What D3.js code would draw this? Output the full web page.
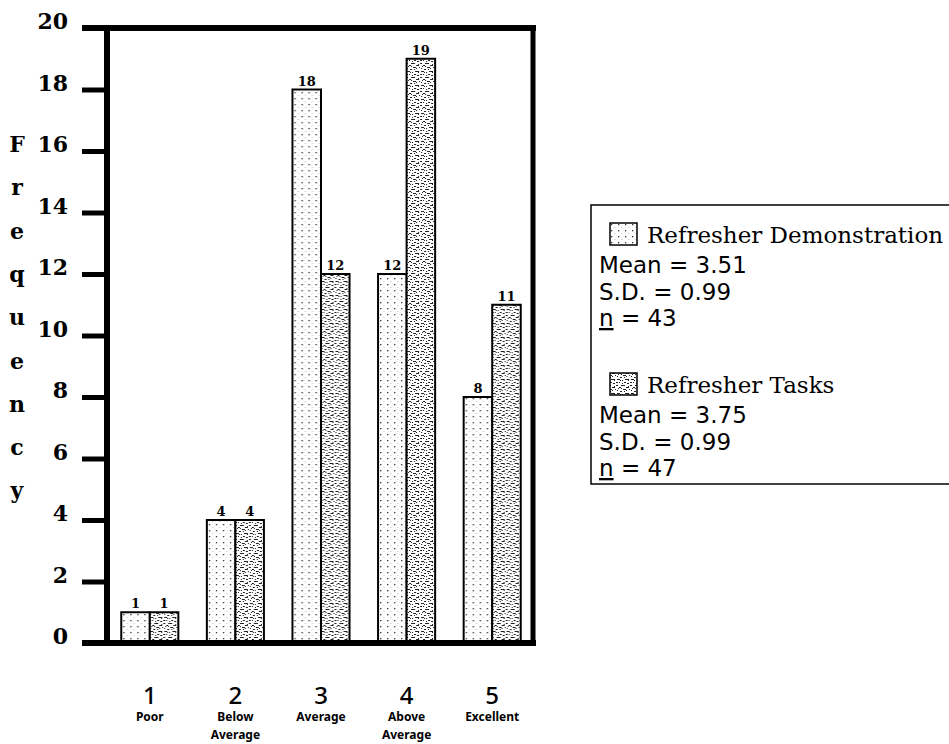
<!DOCTYPE html>
<html>
<head>
<meta charset="utf-8">
<script src="https://cdn.jsdelivr.net/npm/d3@7"></script>
<style>
  body { margin: 0; background: #fff; }
  svg { display: block; }
</style>
</head>
<body>
<svg id="chart" width="949" height="744"></svg>
<script>
// Rating categories and their verbal anchors
const categories = ["1", "2", "3", "4", "5"];
const categoryNames = [["Poor"], ["Below", "Average"], ["Average"], ["Above", "Average"], ["Excellent"]];

// Frequencies per rating for each group
const seriesNames = ["Refresher Demonstration", "Refresher Tasks"];
const demonstration = [1, 4, 18, 12, 8];
const tasks = [1, 4, 12, 19, 11];

// Summary statistics shown in the legend
const means = [3.51, 3.75];
const sds = [0.99, 0.99];
const ns = [43, 47];

const yTicks = [0, 2, 4, 6, 8, 10, 12, 14, 16, 18, 20];
const yTitle = "Frequency";

const seriesValues = [demonstration, tasks];
const patternIds = ["dots", "speckle"];

const svg = d3.select("#chart");
const plotLeft = 107, plotRight = 535, plotTop = 28, plotBottom = 643;

const y = d3.scaleLinear().domain([0, 20]).range([plotBottom, plotTop]);
const x = d3.scaleBand().domain(categories).range([plotLeft, plotRight])
  .paddingInner(1 / 3).paddingOuter(1 / 6);
const xs = d3.scaleBand().domain(seriesNames).range([0, x.bandwidth()]);

// ---- fill patterns ----
const defs = svg.append("defs");
const dots = defs.append("pattern").attr("id", "dots")
  .attr("patternUnits", "userSpaceOnUse").attr("width", 7).attr("height", 6);
dots.append("rect").attr("width", 7).attr("height", 6).attr("fill", "#fff");
dots.append("rect").attr("x", 2).attr("y", 2).attr("width", 1.3).attr("height", 1.3).attr("fill", "#333");
dots.append("rect").attr("x", 5.5).attr("y", 5).attr("width", 0.8).attr("height", 0.8).attr("fill", "#999");

const speckle = defs.append("pattern").attr("id", "speckle")
  .attr("patternUnits", "userSpaceOnUse").attr("width", 14).attr("height", 14);
speckle.append("rect").attr("width", 14).attr("height", 14).attr("fill", "#fff");
const specks = [[1,1,3,1],[6,2,1,1],[9,1,4,1],[3,4,1,1],[11,5,2,1],[0,7,2,1],[5,7,4,1],
  [12,8,1,1],[2,10,1,1],[7,11,3,1],[10,12,1,1],[4,13,2,1],[8,4,2,1],[1,12,1,1],[12,2,1,1],
  [4,2,1,1],[0,4,2,1],[6,5,1,1],[10,9,3,1],[3,9,2,1],[8,13,1,1],[13,11,1,1],[5,10,1,1]];
speckle.selectAll("rect.s").data(specks).join("rect").attr("class", "s")
  .attr("x", d => d[0]).attr("y", d => d[1]).attr("width", d => d[2]).attr("height", d => d[3])
  .attr("fill", "#222");

// ---- bars ----
const groups = svg.append("g").selectAll("g")
  .data(categories).join("g")
  .attr("transform", c => `translate(${x(c)},0)`);

groups.selectAll("rect")
  .data((c, i) => seriesNames.map((s, k) => ({ s, k, v: seriesValues[k][i] })))
  .join("rect")
  .attr("x", d => xs(d.s))
  .attr("y", d => y(d.v))
  .attr("width", xs.bandwidth())
  .attr("height", d => y(0) - y(d.v))
  .attr("fill", d => `url(#${patternIds[d.k]})`)
  .attr("stroke", "#000")
  .attr("stroke-width", 2);

groups.selectAll("text.val")
  .data((c, i) => seriesNames.map((s, k) => ({ s, k, v: seriesValues[k][i] })))
  .join("text").attr("class", "val")
  .attr("x", d => xs(d.s) + xs.bandwidth() / 2)
  .attr("y", d => y(d.v) - 4)
  .attr("text-anchor", "middle")
  .style("font", "bold 13px 'DejaVu Serif'")
  .text(d => d.v);

// ---- y axis ----
const yAxis = svg.append("g").attr("transform", `translate(${plotLeft},0)`)
  .call(d3.axisLeft(y).tickValues(yTicks).tickSize(25).tickPadding(14).tickFormat(d3.format("d")));
yAxis.select(".domain").remove();
yAxis.selectAll(".tick line").attr("stroke", "#000").attr("stroke-width", 5);
yAxis.selectAll(".tick text")
  .attr("dy", "0.04em")
  .attr("fill", "#000")
  .style("font", "bold 22px 'DejaVu Serif'");

// ---- frame ----
const frame = svg.append("g").attr("stroke", "#000").attr("fill", "none");
frame.append("line").attr("x1", 82).attr("x2", 536).attr("y1", plotTop).attr("y2", plotTop).attr("stroke-width", 6);
frame.append("line").attr("x1", plotLeft).attr("x2", plotLeft).attr("y1", plotTop - 3).attr("y2", plotBottom + 3).attr("stroke-width", 6);
frame.append("line").attr("x1", 82).attr("x2", 536).attr("y1", plotBottom).attr("y2", plotBottom).attr("stroke-width", 6);
frame.append("line").attr("x1", 533).attr("x2", 533).attr("y1", plotTop - 3).attr("y2", plotBottom + 3).attr("stroke-width", 5);

// ---- y title, stacked letters ----
svg.append("g").selectAll("text")
  .data(yTitle.split(""))
  .join("text")
  .attr("x", 17)
  .attr("y", (d, i) => 152 + i * 43.3)
  .attr("text-anchor", "middle")
  .style("font", "bold 22px 'DejaVu Serif'")
  .text(d => d);

// ---- x category labels ----
const xl = svg.append("g").selectAll("g")
  .data(categories).join("g")
  .attr("transform", c => `translate(${x(c) + x.bandwidth() / 2},0)`);
xl.append("text")
  .attr("y", 704).attr("text-anchor", "middle")
  .style("font", "500 24px 'Noto Sans'")
  .text(c => c);
xl.each(function (c, i) {
  d3.select(this).selectAll("text.sub")
    .data(categoryNames[i]).join("text").attr("class", "sub")
    .attr("y", (d, j) => 721 + j * 18)
    .attr("text-anchor", "middle")
    .style("font", "bold 12px 'Noto Sans'")
    .text(d => d);
});

// ---- legend ----
const legend = svg.append("g");
legend.append("rect").attr("x", 591).attr("y", 205).attr("width", 420).attr("height", 279)
  .attr("fill", "none").attr("stroke", "#000").attr("stroke-width", 1.5);

seriesNames.forEach((name, k) => {
  const y0 = 223 + k * 150;
  legend.append("rect").attr("x", 610).attr("y", y0).attr("width", 27).attr("height", 22)
    .attr("fill", `url(#${patternIds[k]})`).attr("stroke", "#000").attr("stroke-width", 1.5);
  legend.append("text").attr("x", 647).attr("y", y0 + 20)
    .style("font", "23px 'DejaVu Serif'").text(name);
  const lines = [`Mean = ${means[k].toFixed(2)}`, `S.D. = ${sds[k].toFixed(2)}`];
  lines.forEach((t, j) => {
    legend.append("text").attr("x", 599).attr("y", y0 + 50 + j * 26.5)
      .style("font", "23px 'DejaVu Sans'").text(t);
  });
  const nt = legend.append("text").attr("x", 599).attr("y", y0 + 103)
    .style("font", "23px 'DejaVu Sans'");
  nt.append("tspan").style("text-decoration", "underline").text("n");
  nt.append("tspan").text(` = ${ns[k]}`);
});
</script>
</body>
</html>
